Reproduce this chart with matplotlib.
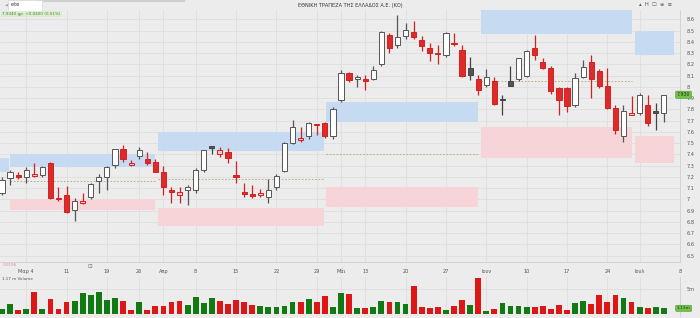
import matplotlib
matplotlib.use("Agg")
import matplotlib.pyplot as plt

plt.rcParams['font.family'] = ['DejaVu Sans']

# ---- data (ETE daily candles, Mar-Jul) ----
opens = [7.06, 7.19, 7.22, 7.20, 7.21, 7.22, 7.32, 7.01, 7.04, 6.91,
         6.97, 7.02, 7.16, 7.20, 7.31, 7.45, 7.31, 7.39, 7.36, 7.33,
         7.24, 7.08, 7.04, 7.08, 7.08, 7.26, 7.47, 7.40, 7.42, 7.22,
         7.06, 7.05, 7.04, 7.02, 7.11, 7.25, 7.50, 7.53, 7.56, 7.67,
         7.68, 7.56, 7.88, 8.12, 8.07, 8.07, 8.07, 8.20, 8.46, 8.37,
         8.45, 8.49, 8.42, 8.35, 8.29, 8.28, 8.39, 8.33, 8.11, 8.07,
         8.02, 8.05, 7.89, 8.05, 8.07, 8.10, 8.35, 8.22, 8.17, 7.99,
         7.99, 7.84, 8.09, 8.22, 8.14, 8.01, 7.81, 7.56, 7.75, 7.77,
         7.84, 7.77, 7.77]
highs = [7.20, 7.26, 7.24, 7.29, 7.32, 7.30, 7.33, 7.11, 7.12, 7.01,
         7.06, 7.15, 7.23, 7.30, 7.45, 7.48, 7.35, 7.47, 7.42, 7.36,
         7.30, 7.11, 7.11, 7.13, 7.28, 7.44, 7.47, 7.47, 7.46, 7.34,
         7.15, 7.13, 7.09, 7.18, 7.23, 7.51, 7.71, 7.64, 7.69, 7.67,
         7.69, 7.82, 8.15, 8.13, 8.11, 8.11, 8.19, 8.50, 8.48, 8.64,
         8.57, 8.59, 8.45, 8.39, 8.37, 8.49, 8.48, 8.37, 8.27, 8.11,
         8.16, 8.09, 7.93, 8.19, 8.26, 8.33, 8.46, 8.26, 8.19, 8.00,
         8.00, 8.12, 8.24, 8.28, 8.16, 8.17, 7.84, 7.84, 7.92, 7.95,
         7.93, 7.86, 7.93]
lows = [7.04, 7.13, 7.18, 7.15, 7.20, 7.20, 7.00, 6.99, 6.88, 6.81,
        6.96, 7.00, 7.06, 7.08, 7.28, 7.33, 7.30, 7.36, 7.31, 7.24,
        7.04, 6.97, 6.97, 6.95, 7.06, 7.24, 7.40, 7.38, 7.32, 7.15,
        7.02, 7.01, 7.02, 6.97, 7.08, 7.24, 7.49, 7.51, 7.54, 7.57,
        7.55, 7.54, 7.87, 8.04, 8.00, 7.97, 8.06, 8.19, 8.30, 8.35,
        8.43, 8.43, 8.32, 8.23, 8.20, 8.27, 8.36, 8.09, 8.06, 7.93,
        8.00, 7.84, 7.75, 8.01, 8.05, 8.09, 8.24, 8.16, 7.94, 7.75,
        7.78, 7.82, 8.08, 7.90, 7.99, 7.80, 7.58, 7.51, 7.75, 7.75,
        7.65, 7.62, 7.69]
closes = [7.17, 7.24, 7.20, 7.26, 7.22, 7.29, 7.01, 7.00, 6.89, 6.99,
          6.99, 7.14, 7.20, 7.29, 7.45, 7.36, 7.32, 7.44, 7.32, 7.24,
          7.11, 7.07, 7.07, 7.11, 7.26, 7.44, 7.46, 7.44, 7.37, 7.20,
          7.05, 7.03, 7.06, 7.08, 7.21, 7.50, 7.64, 7.55, 7.68, 7.66,
          7.56, 7.80, 8.12, 8.06, 8.09, 8.05, 8.15, 8.49, 8.35, 8.44,
          8.51, 8.44, 8.36, 8.30, 8.30, 8.48, 8.38, 8.10, 8.17, 7.97,
          8.09, 7.85, 7.88, 8.01, 8.26, 8.32, 8.28, 8.17, 7.96, 7.88,
          7.83, 8.08, 8.18, 8.07, 8.01, 7.81, 7.62, 7.79, 7.77, 7.93,
          7.68, 7.78, 7.93]
# w = hollow up, r = red down, p = pink, d = dark gray
styles = ['w', 'w', 'r', 'w', 'p', 'w', 'r', 'r', 'r', 'w',
          'p', 'w', 'w', 'w', 'w', 'r', 'p', 'w', 'r', 'r',
          'r', 'r', 'p', 'w', 'w', 'w', 'd', 'p', 'r', 'r',
          'r', 'r', 'p', 'w', 'w', 'w', 'w', 'p', 'w', 'r',
          'r', 'w', 'w', 'r', 'w', 'r', 'w', 'w', 'r', 'w',
          'w', 'r', 'r', 'r', 'p', 'w', 'r', 'r', 'd', 'r',
          'w', 'r', 'd', 'd', 'w', 'w', 'r', 'r', 'r', 'r',
          'r', 'w', 'w', 'r', 'r', 'r', 'r', 'w', 'p', 'w',
          'r', 'd', 'w']

# volume in millions
volumes = [1.00, 2.07, 0.73, 1.00, 4.47, 1.00, 3.07, 1.00, 2.33, 2.67,
           4.13, 3.80, 4.47, 2.87, 3.20, 2.53, 0.87, 2.33, 0.87, 1.53,
           1.53, 2.33, 2.60, 1.73, 3.33, 2.20, 3.20, 2.60, 2.07, 2.87,
           2.33, 1.80, 1.67, 1.33, 1.33, 1.67, 2.40, 2.47, 2.93, 2.33,
           3.60, 1.33, 4.20, 3.93, 1.13, 1.27, 1.40, 2.53, 2.47, 2.33,
           1.93, 5.53, 1.40, 1.13, 1.33, 0.73, 1.53, 2.87, 1.80, 7.20,
           0.60, 1.07, 2.20, 1.53, 1.53, 1.33, 1.40, 1.67, 1.07, 1.87,
           0.80, 2.20, 2.67, 1.93, 3.87, 2.47, 3.73, 3.20, 2.40, 1.40,
           1.20, 1.40, 1.13]
vol_dirs = list("ggrgrgrrr" "gggggg" "rr" "g" "rrrrr" "gggg" "rrrrr" "ggggg" "r" "g" "rr" "gg"
                "rgrggrgg" "rrrr" "g" "rr" "g" "r" "g" "r" "gggg" "rrrrr" "gg" "rrrr" "g" "r" "g" "r" "gg")

# x axis labels (bar index, text)
date_pos = [3, 8, 13, 17, 20, 24, 29, 34, 39, 42, 45, 50, 55, 60, 65, 70, 75, 79, 84]
date_labels = ['Μαρ 4', '11', '19', '26', 'Απρ', '8', '15', '22', '29', 'Μάι',
               '13', '20', '27', 'Ιουν', '10', '17', '24', 'Ιουλ', '8']

# monthly zones: start/end bar, blue band, pink band, mid line
zone_start = [-0.5, 0.98, 19.3, 40.2, 59.4, 78.4]
zone_end = [0.86, 19.0, 39.9, 59.0, 78.0, 83.3]
blue_lo = [7.24, 7.29, 7.43, 7.69, 8.47, 8.28]
blue_hi = [7.37, 7.40, 7.60, 7.87, 8.68, 8.50]
pink_lo = [None, 6.91, 6.76, 6.93, 7.37, 7.32]
pink_hi = [None, 7.00, 6.92, 7.11, 7.64, 7.56]
mid_line = [None, 7.16, 7.18, 7.40, 8.05, None]

price_ticks = [6.5 + 0.1 * k for k in range(22)]
price_tick_labels = ['6.5', '6.6', '6.7', '6.8', '6.9', '7', '7.1', '7.2', '7.3', '7.4', '7.5',
                     '7.6', '7.7', '7.8', '7.9', '8', '8.1', '8.2', '8.3', '8.4', '8.5', '8.6']

BG = '#ececec'
GRID = '#dedede'
TXT = '#555555'

fig = plt.figure(figsize=(7, 3.18), dpi=100, facecolor=BG)

# ---- price panel ----
ax = fig.add_axes([0, 56 / 318, 680 / 700, 252 / 318], facecolor=BG)
ax.set_xlim(-0.245, 83.19)
ax.set_ylim(6.444, 8.684)

for i in range(len(zone_start)):
    ax.fill_between([zone_start[i], zone_end[i]], blue_lo[i], blue_hi[i],
                    color='#c6dbf1', lw=0, zorder=1)
    if pink_lo[i] is not None:
        ax.fill_between([zone_start[i], zone_end[i]], pink_lo[i], pink_hi[i],
                        color='#f6d4d8', lw=0, zorder=1)
    if mid_line[i] is not None:
        ax.hlines(mid_line[i], zone_start[i], zone_end[i], colors='#b5a66e',
                  linestyles=(0, (2, 2)), lw=0.6, zorder=1.5)

idx = list(range(len(opens)))
fills = {'w': '#ffffff', 'r': '#dd2a2a', 'p': '#f6c6c6', 'd': '#555555'}
edges = {'w': '#555555', 'r': '#d42020', 'p': '#d42020', 'd': '#444444'}
wick_col = {'w': '#555555', 'r': '#d42020', 'p': '#d42020', 'd': '#444444'}

for i in idx:
    s = styles[i]
    ax.vlines(i, lows[i], highs[i], colors=wick_col[s], lw=0.9, zorder=2)
    bottom = min(opens[i], closes[i])
    height = max(abs(closes[i] - opens[i]), 0.012)
    ax.bar(i, height, bottom=bottom, width=0.64, color=fills[s],
           edgecolor=edges[s], linewidth=0.7, zorder=3)

ax.set_yticks(price_ticks)
ax.set_yticklabels(price_tick_labels)
ax.yaxis.tick_right()
ax.tick_params(axis='y', length=0, pad=5, labelsize=3.6, labelcolor=TXT)
ax.set_xticks(date_pos)
ax.set_xticklabels(date_labels)
ax.tick_params(axis='x', length=0, pad=5, labelsize=3.6, labelcolor=TXT)
ax.grid(True, color=GRID, lw=0.6, zorder=0)
ax.set_axisbelow(True)
for side in ['top', 'left']:
    ax.spines[side].set_visible(False)
ax.spines['right'].set_color('#d0d0d0')
ax.spines['bottom'].set_color('#d0d0d0')
ax.spines['right'].set_linewidth(0.6)
ax.spines['bottom'].set_linewidth(0.6)

# last price tag
ax.text(83.6, closes[-1], '%.3f' % closes[-1], fontsize=3.4, color='#1d3d12',
        va='center', ha='left', zorder=6, clip_on=False,
        bbox=dict(boxstyle='round,pad=0.25', fc='#74c04c', ec='#4f9a33', lw=0.4))

# ---- volume panel ----
axv = fig.add_axes([0, 2 / 318, 680 / 700, 39 / 318], facecolor=BG)
axv.set_xlim(-0.245, 83.19)
axv.set_ylim(-0.4, 7.4)
vcols = ['#137a13' if d == 'g' else '#dd1616' for d in vol_dirs]
axv.bar(idx, volumes, width=0.72, color=vcols, zorder=3)
axv.set_xticks(date_pos)
axv.set_xticklabels([])
axv.set_yticks([5])
axv.set_yticklabels(['5m'])
axv.yaxis.tick_right()
axv.tick_params(axis='both', length=0, pad=5, labelsize=3.6, labelcolor=TXT)
axv.grid(True, color=GRID, lw=0.6, zorder=0)
for side in ['top', 'left', 'bottom']:
    axv.spines[side].set_visible(False)
axv.spines['right'].set_color('#d0d0d0')
axv.spines['right'].set_linewidth(0.6)
axv.text(83.6, volumes[-1], '%.2fm' % volumes[-1], fontsize=3.2, color='#1d3d12',
         va='center', ha='left', zorder=6, clip_on=False,
         bbox=dict(boxstyle='round,pad=0.25', fc='#74c04c', ec='#4f9a33', lw=0.4))

# ---- header and small texts ----
fig.patches.append(plt.Rectangle((37 / 700, 1 - 2 / 318), 148 / 700, 1.5 / 318,
                                 transform=fig.transFigure, color='#cfcfcf', lw=0))
fig.text(0.5, 1 - 5 / 318, 'ΕΘΝΙΚΗ ΤΡΑΠΕΖΑ ΤΗΣ ΕΛΛΑΔΟΣ Α.Ε. (ΚΟ)', fontsize=3.6,
         color='#333333', ha='center', va='center')
fig.text(4 / 700, 1 - 5 / 318, '<', fontsize=4.5, color='#555555', ha='left', va='center')
fig.text(11 / 700, 1 - 5 / 318, 'ete            ', fontsize=3.6, color='#333333',
         ha='left', va='center',
         bbox=dict(boxstyle='square,pad=0.6', fc='white', ec='#cfcfcf', lw=0.4))
fig.text(2 / 700, 1 - 14 / 318, '7.9340 gp  +0.0400 (0.51%)', fontsize=3.0, color='#3f8f2a',
         ha='left', va='center',
         bbox=dict(boxstyle='square,pad=0.3', fc='#dcebd2', ec='none'))
fig.text(672 / 700, 1 - 5 / 318, '▴  H  ☐  ⊜  ≡', fontsize=3.8, color='#555555',
         ha='right', va='center')
fig.text(3 / 700, 1 - 265 / 318, '0.0196', fontsize=3.0, color='#e08a96', ha='left', va='center')
fig.text(88 / 700, 1 - 266 / 318, '⊡', fontsize=4.0, color='#777777', ha='left', va='center')
fig.text(2 / 700, 1 - 279 / 318, '1.17 m Volume', fontsize=3.0, color='#555555',
         ha='left', va='center')

fig.savefig('out.png', dpi=100, facecolor=BG)
